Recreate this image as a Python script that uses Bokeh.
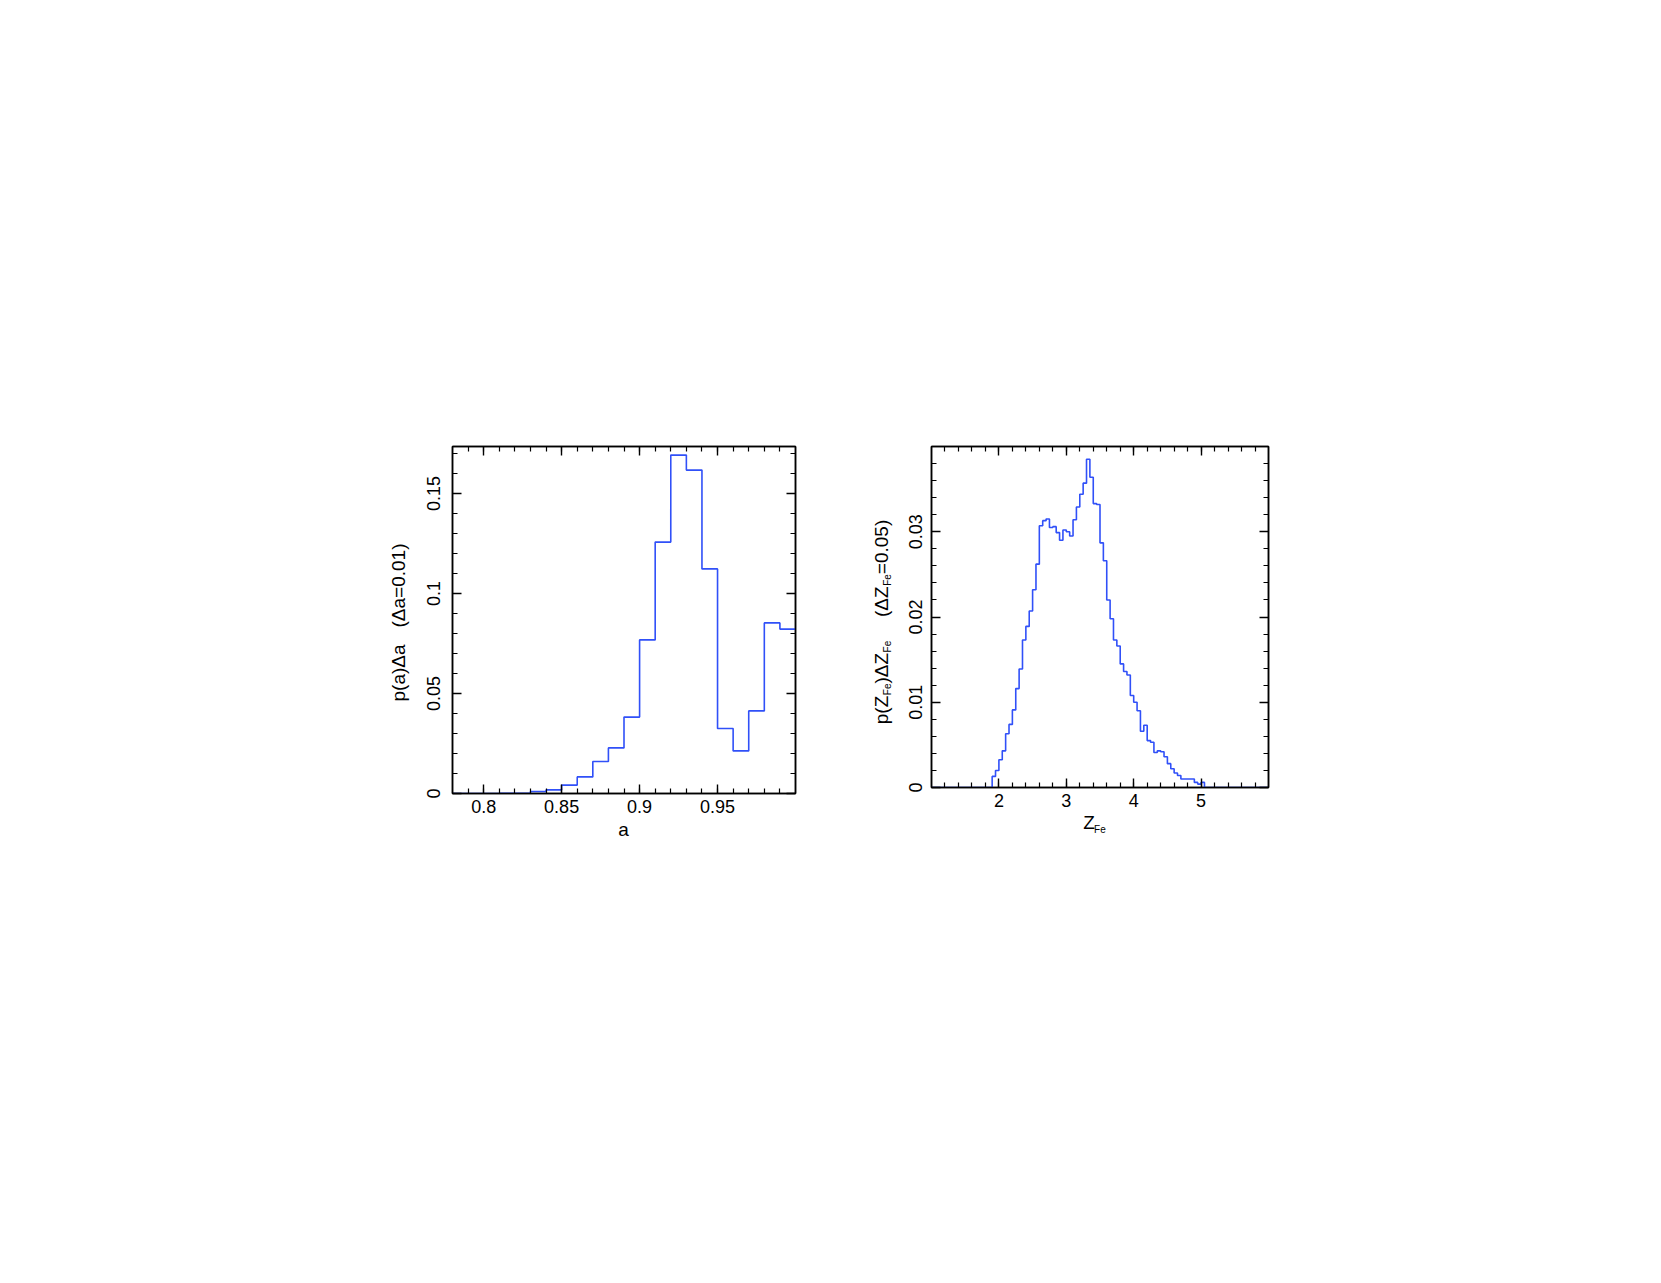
import math
from bokeh.plotting import figure
from bokeh.models import FixedTicker, LinearAxis, Spacer, Range1d, CustomJSTickFormatter
from bokeh.layouts import row, column
from bokeh.core.properties import value
from bokeh.embed import file_html
from bokeh.resources import INLINE

# ---------------- data ----------------
# left panel: p(a) Delta a, bins of width 0.01 starting at 0.78
a_bin_lo = 0.78
a_bin_w = 0.01
a_prob = [0.0, 0.0, 0.0, 0.0001, 0.0001, 0.0010, 0.0018, 0.0042, 0.0083, 0.0160,
          0.0228, 0.0382, 0.0768, 0.1257, 0.1692, 0.1617, 0.1123, 0.0325, 0.0213,
          0.0413, 0.0853, 0.0822]
a_xticks = [0.8, 0.85, 0.9, 0.95]
a_xtick_labels = ["0.8", "0.85", "0.9", "0.95"]
a_yticks = [0.0, 0.05, 0.1, 0.15]
a_ytick_labels = ["0", "0.05", "0.1", "0.15"]

# right panel: p(Z_Fe) Delta Z_Fe, bins of width 0.05 starting at 1.0
z_bin_lo = 1.0
z_bin_w = 0.05
z_prob = [0.0, 0.0, 0.0, 0.0, 0.0, 0.0, 0.0, 0.0, 0.0, 0.0,
          0.0, 0.0, 0.0, 0.0, 0.0, 0.0, 0.0, 0.0,
          0.0013, 0.0020, 0.00325, 0.0043, 0.0063, 0.0074, 0.0091, 0.0116, 0.0139, 0.0173,
          0.0189, 0.0207, 0.0232, 0.0262, 0.0307, 0.0313, 0.0315, 0.0305, 0.0306, 0.0299,
          0.0290, 0.0302, 0.0300, 0.0295, 0.0314, 0.0329, 0.0344, 0.0357, 0.0385, 0.0364,
          0.0333, 0.0332, 0.0287, 0.0266, 0.0220, 0.0198, 0.0173, 0.0166, 0.0145, 0.0136,
          0.0132, 0.0108, 0.0100, 0.0090, 0.0066, 0.0073, 0.0055, 0.0053, 0.0041, 0.0043,
          0.0042, 0.0036, 0.0028, 0.0022, 0.0017, 0.0014, 0.0010, 0.0010, 0.0010, 0.0010,
          0.0006, 0.0004, 0.0006,
          0.0, 0.0, 0.0, 0.0, 0.0, 0.0, 0.0, 0.0, 0.0, 0.0,
          0.0, 0.0, 0.0, 0.0, 0.0, 0.0, 0.0, 0.0, 0.0]
z_xticks = [2, 3, 4, 5]
z_xtick_labels = ["2", "3", "4", "5"]
z_yticks = [0.0, 0.01, 0.02, 0.03]
z_ytick_labels = ["0", "0.01", "0.02", "0.03"]

# ---------------- styling ----------------
FONT = "Liberation Sans"
LINE_COLOR = "#3050f8"
TICK_FS = "18px"
LAB_F = 19
SUB_F = 10
HX_C = -13   # empirical horizontal placement correction for texts in the label figures
VX_C = -9

ADV = {'p': 0.556, '(': 0.333, ')': 0.333, 'Z': 0.611, 'F': 0.611, 'e': 0.556,
       'Δ': 0.668, '=': 0.584, '0': 0.556, '.': 0.278, '5': 0.556, 'a': 0.556,
       '1': 0.556, ' ': 0.278}


def tw(s, size):
    return sum(ADV.get(c, 0.556) for c in s) * size


def step_xy(lo, w, vals):
    n = len(vals)
    edges = [round(lo + w * i, 4) for i in range(n + 1)]
    return edges, list(vals) + [vals[-1]]


def style_axis(ax, major, minor, labels, show_labels=True, vertical=False, standoff=6):
    ax.ticker = FixedTicker(ticks=major, minor_ticks=minor)
    ax.axis_line_color = "black"
    ax.axis_line_width = 1.5
    ax.major_tick_in = 9
    ax.major_tick_out = 0
    ax.minor_tick_in = 5
    ax.minor_tick_out = 0
    ax.major_tick_line_color = "black"
    ax.major_tick_line_width = 1.4
    ax.minor_tick_line_color = "black"
    ax.minor_tick_line_width = 1.2
    ax.axis_label = None
    ax.major_label_text_font = FONT
    ax.major_label_text_color = "black"
    if show_labels:
        ax.major_label_text_font_size = TICK_FS
        ax.major_label_overrides = {float(t): l for t, l in zip(major, labels)}
        ax.major_label_standoff = standoff
        if vertical:
            ax.major_label_orientation = "vertical"
    else:
        ax.formatter = CustomJSTickFormatter(code="return ''")
        ax.major_label_text_font_size = "10px"
        ax.major_label_standoff = 0


def make_fig(xr, yr, fw, fh, mbl, mbr, mbb, xmaj, xmin, xlab, ymaj, ymin, ylab, ystand):
    p = figure(x_range=Range1d(*xr), y_range=Range1d(*yr), frame_width=fw, frame_height=fh,
               min_border_left=mbl, min_border_right=mbr, min_border_top=10,
               min_border_bottom=mbb, output_backend="svg", toolbar_location=None,
               background_fill_color="white", border_fill_color="white")
    p.xgrid.visible = False
    p.ygrid.visible = False
    p.outline_line_color = "black"
    p.outline_line_width = 1.5
    style_axis(p.xaxis[0], xmaj, xmin, xlab, standoff=6)
    style_axis(p.yaxis[0], ymaj, ymin, ylab, vertical=True, standoff=ystand)
    top = LinearAxis()
    style_axis(top, xmaj, xmin, xlab, show_labels=False)
    right = LinearAxis()
    style_axis(right, ymaj, ymin, ylab, show_labels=False)
    p.add_layout(top, "above")
    p.add_layout(right, "right")
    return p


def text_fig(w, h, margin=None):
    kw = {} if margin is None else {"margin": margin}
    t = figure(x_range=Range1d(0, w), y_range=Range1d(0, h), width=w, height=h, min_border=0,
               x_axis_type=None, y_axis_type=None, output_backend="svg", toolbar_location=None,
               background_fill_color=None, border_fill_color=None, **kw)
    t.outline_line_color = None
    t.xgrid.visible = False
    t.ygrid.visible = False
    return t


def put_h(fig, x, y, txt, size, align="left"):
    fig.text(x=[x + HX_C], y=[y], text=[txt], angle=0.0, text_align=align,
             text_baseline="alphabetic", text_font=value(FONT),
             text_font_size=value(f"{size}px"), text_color="black")


def put_v(fig, x, y, txt, size):
    fig.text(x=[x + VX_C], y=[y], text=[txt], angle=math.pi / 2, text_align="left",
             text_baseline="alphabetic", text_font=value(FONT),
             text_font_size=value(f"{size}px"), text_color="black")


# ---------------- left panel ----------------
a_minor_x = [round(0.79 + 0.01 * i, 2) for i in range(21)]
a_minor_y = [round(0.01 * i, 2) for i in range(18)]
p1 = make_fig((0.78, 1.0), (0.0, 0.1735), 343, 347, 40, 10, 40,
              a_xticks, a_minor_x, a_xtick_labels, a_yticks, a_minor_y, a_ytick_labels, 13)
ax_, ay_ = step_xy(a_bin_lo, a_bin_w, a_prob)
p1.step(ax_, ay_, mode="after", line_color=LINE_COLOR, line_width=1.6)

# left y label (rotated)
yl1 = text_fig(80, 397)
gap = 3.2 * 0.278 * LAB_F
t1, t2 = "p(a)Δa", "(Δa=0.01)"
L = tw(t1, LAB_F) + gap + tw(t2, LAB_F)
s0 = 211 - L / 2
put_v(yl1, 75, s0, t1, LAB_F)
put_v(yl1, 75, s0 + tw(t1, LAB_F) + gap, t2, LAB_F)

# left x label (overlaps the bottom border of p1, transparent)
xl1 = text_fig(393, 50, margin=(-30, 0, 0, 0))
put_h(xl1, 209, 23.8, "a", LAB_F, align="center")

# ---------------- right panel ----------------
z_minor_x = [round(1.2 + 0.2 * i, 1) for i in range(24)]
z_minor_y = [round(0.002 * i, 3) for i in range(20)]
p2 = make_fig((1.0, 6.0), (0.0, 0.04), 337, 341, 34, 10, 40,
              z_xticks, z_minor_x, z_xtick_labels, z_yticks, z_minor_y, z_ytick_labels, 10)
zx_, zy_ = step_xy(z_bin_lo, z_bin_w, z_prob)
p2.step(zx_, zy_, mode="after", line_color=LINE_COLOR, line_width=1.6)

# right y label with subscripts (rotated)
yl2 = text_fig(92, 391)
pieces = [("p(Z", LAB_F, 0, 0), ("Fe", SUB_F, 6, 0.5), (")ΔZ", LAB_F, 0, 0), ("Fe", SUB_F, 6, 0.5),
          ("(ΔZ", LAB_F, 0, 4.5 * 0.278 * LAB_F), ("Fe", SUB_F, 6, 0.5), ("=0.05)", LAB_F, 0, 0)]
total = sum(tw(t, sz) + g for t, sz, d, g in pieces)
s = 205.5 - total / 2
for t, sz, d, g in pieces:
    s += g
    put_v(yl2, 85 + d, s, t, sz)
    s += tw(t, sz)

# right x label Z_Fe (overlaps the bottom border of p2, transparent)
xl2 = text_fig(381, 50, margin=(-30, 0, 0, 0))
zx0 = 184.7
put_h(xl2, zx0, 25.2, "Z", LAB_F)
put_h(xl2, zx0 + tw("Z", LAB_F) + 0.5, 18.5, "Fe", SUB_F)

layout = column(Spacer(height=436, width=10),
                row(Spacer(width=332, height=10), yl1, column(p1, xl1), yl2, column(p2, xl2)))

open("out.html", "w").write(file_html(layout, INLINE))
